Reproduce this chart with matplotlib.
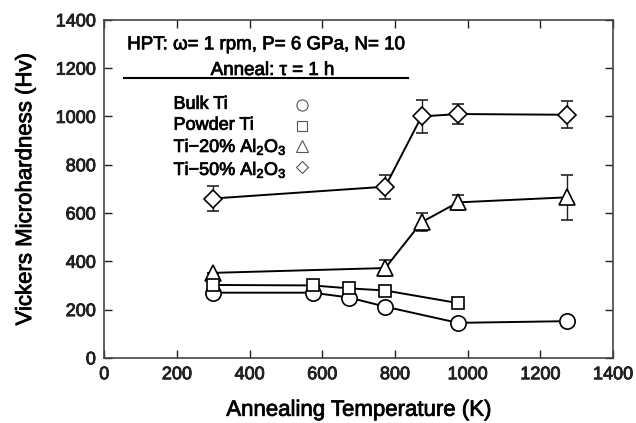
import matplotlib
matplotlib.use("Agg")
import matplotlib.pyplot as plt
import matplotlib.patheffects as pe

plt.rcParams['font.family'] = ['Liberation Sans', 'DejaVu Sans']
plt.rcParams['mathtext.fontset'] = 'custom'
plt.rcParams['mathtext.rm'] = 'Liberation Sans'
plt.rcParams['mathtext.it'] = 'Liberation Sans'

# Data
bulk_T = [298, 573, 673, 773, 973, 1273]
bulk_H = [270, 270, 250, 212, 145, 152]

powder_T = [298, 573, 673, 773, 973]
powder_H = [302, 300, 288, 279, 227]

ti20_T = [298, 773, 873, 973, 1273]
ti20_H = [352, 372, 562, 644, 665]
ti20_err = [0, 32, 37, 31, 93]

ti50_T = [298, 773, 873, 973, 1273]
ti50_H = [660, 709, 1000, 1010, 1007]
ti50_err = [50, 50, 68, 40, 56]

legend_labels = ['Bulk Ti', 'Powder Ti', 'Ti\u221220% Al$_2$O$_3$', 'Ti\u221250% Al$_2$O$_3$']
legend_markers = ['o', 's', '^', 'D']
legend_sizes = [8, 7, 8, 6]

thick = [pe.withStroke(linewidth=0.6, foreground='#111')]

fig = plt.figure(figsize=(6.36, 4.23), dpi=100)
ax = fig.add_axes([0.164, 0.154, 0.800, 0.799])

lw = 1.4
mkw = dict(markerfacecolor='white', markeredgecolor='black', markeredgewidth=1.2, color='black', linewidth=lw)

ax.errorbar(ti50_T, ti50_H, yerr=ti50_err, marker='D', markersize=9, capsize=4, elinewidth=1.0, capthick=1.0, ecolor='#222', zorder=3, **mkw)
ax.errorbar(ti20_T, ti20_H, yerr=ti20_err, marker='^', markersize=11, capsize=4, elinewidth=1.0, capthick=1.0, ecolor='#222', zorder=3, **mkw)
ax.plot(powder_T, powder_H, marker='s', markersize=9, zorder=4, **mkw)
ax.plot(bulk_T, bulk_H, marker='o', markersize=11, zorder=3, **mkw)

ax.set_xlim(0, 1400)
ax.set_ylim(0, 1400)
ax.set_xticks(range(0, 1401, 200))
ax.set_yticks(range(0, 1401, 200))
ax.tick_params(direction='in', top=True, right=True, length=6, width=1, labelsize=13, colors='#222', pad=6)
for lab in ax.get_xticklabels() + ax.get_yticklabels():
    lab.set_path_effects(thick)
for s in ax.spines.values():
    s.set_color('#444')
    s.set_linewidth(1.2)

ax.set_xlabel('Annealing Temperature (K)', fontsize=16, path_effects=thick)
ax.set_ylabel('Vickers Microhardness (Hv)', fontsize=16, path_effects=thick)
ax.xaxis.set_label_coords(0.501, -0.124)
ax.yaxis.set_label_coords(-0.134, 0.5)

# Annotation block
ax.text(0.045, 0.913, 'HPT: \u03c9= 1 rpm, P= 6 GPa, N= 10', transform=ax.transAxes, fontsize=13.5, va='baseline', ha='left', path_effects=thick)
ax.text(0.331, 0.837, 'Anneal: \u03c4 = 1 h', transform=ax.transAxes, fontsize=13.5, va='baseline', ha='center', path_effects=thick)
ax.plot([0.039, 0.597], [0.827, 0.827], transform=ax.transAxes, color='black', lw=1.5, clip_on=False)

text_ys = [0.737, 0.675, 0.609, 0.541]
mark_ys = [0.749, 0.686, 0.627, 0.566]
for lab, m, ms, ty, my in zip(legend_labels, legend_markers, legend_sizes, text_ys, mark_ys):
    ax.text(0.136, ty, lab, transform=ax.transAxes, fontsize=13, va='baseline', ha='left', path_effects=thick)
    ax.plot([0.388], [my], marker=m, markersize=ms, markerfacecolor='white', markeredgecolor='#555', markeredgewidth=0.8, linestyle='none', transform=ax.transAxes)

fig.savefig('out.png', dpi=100)
